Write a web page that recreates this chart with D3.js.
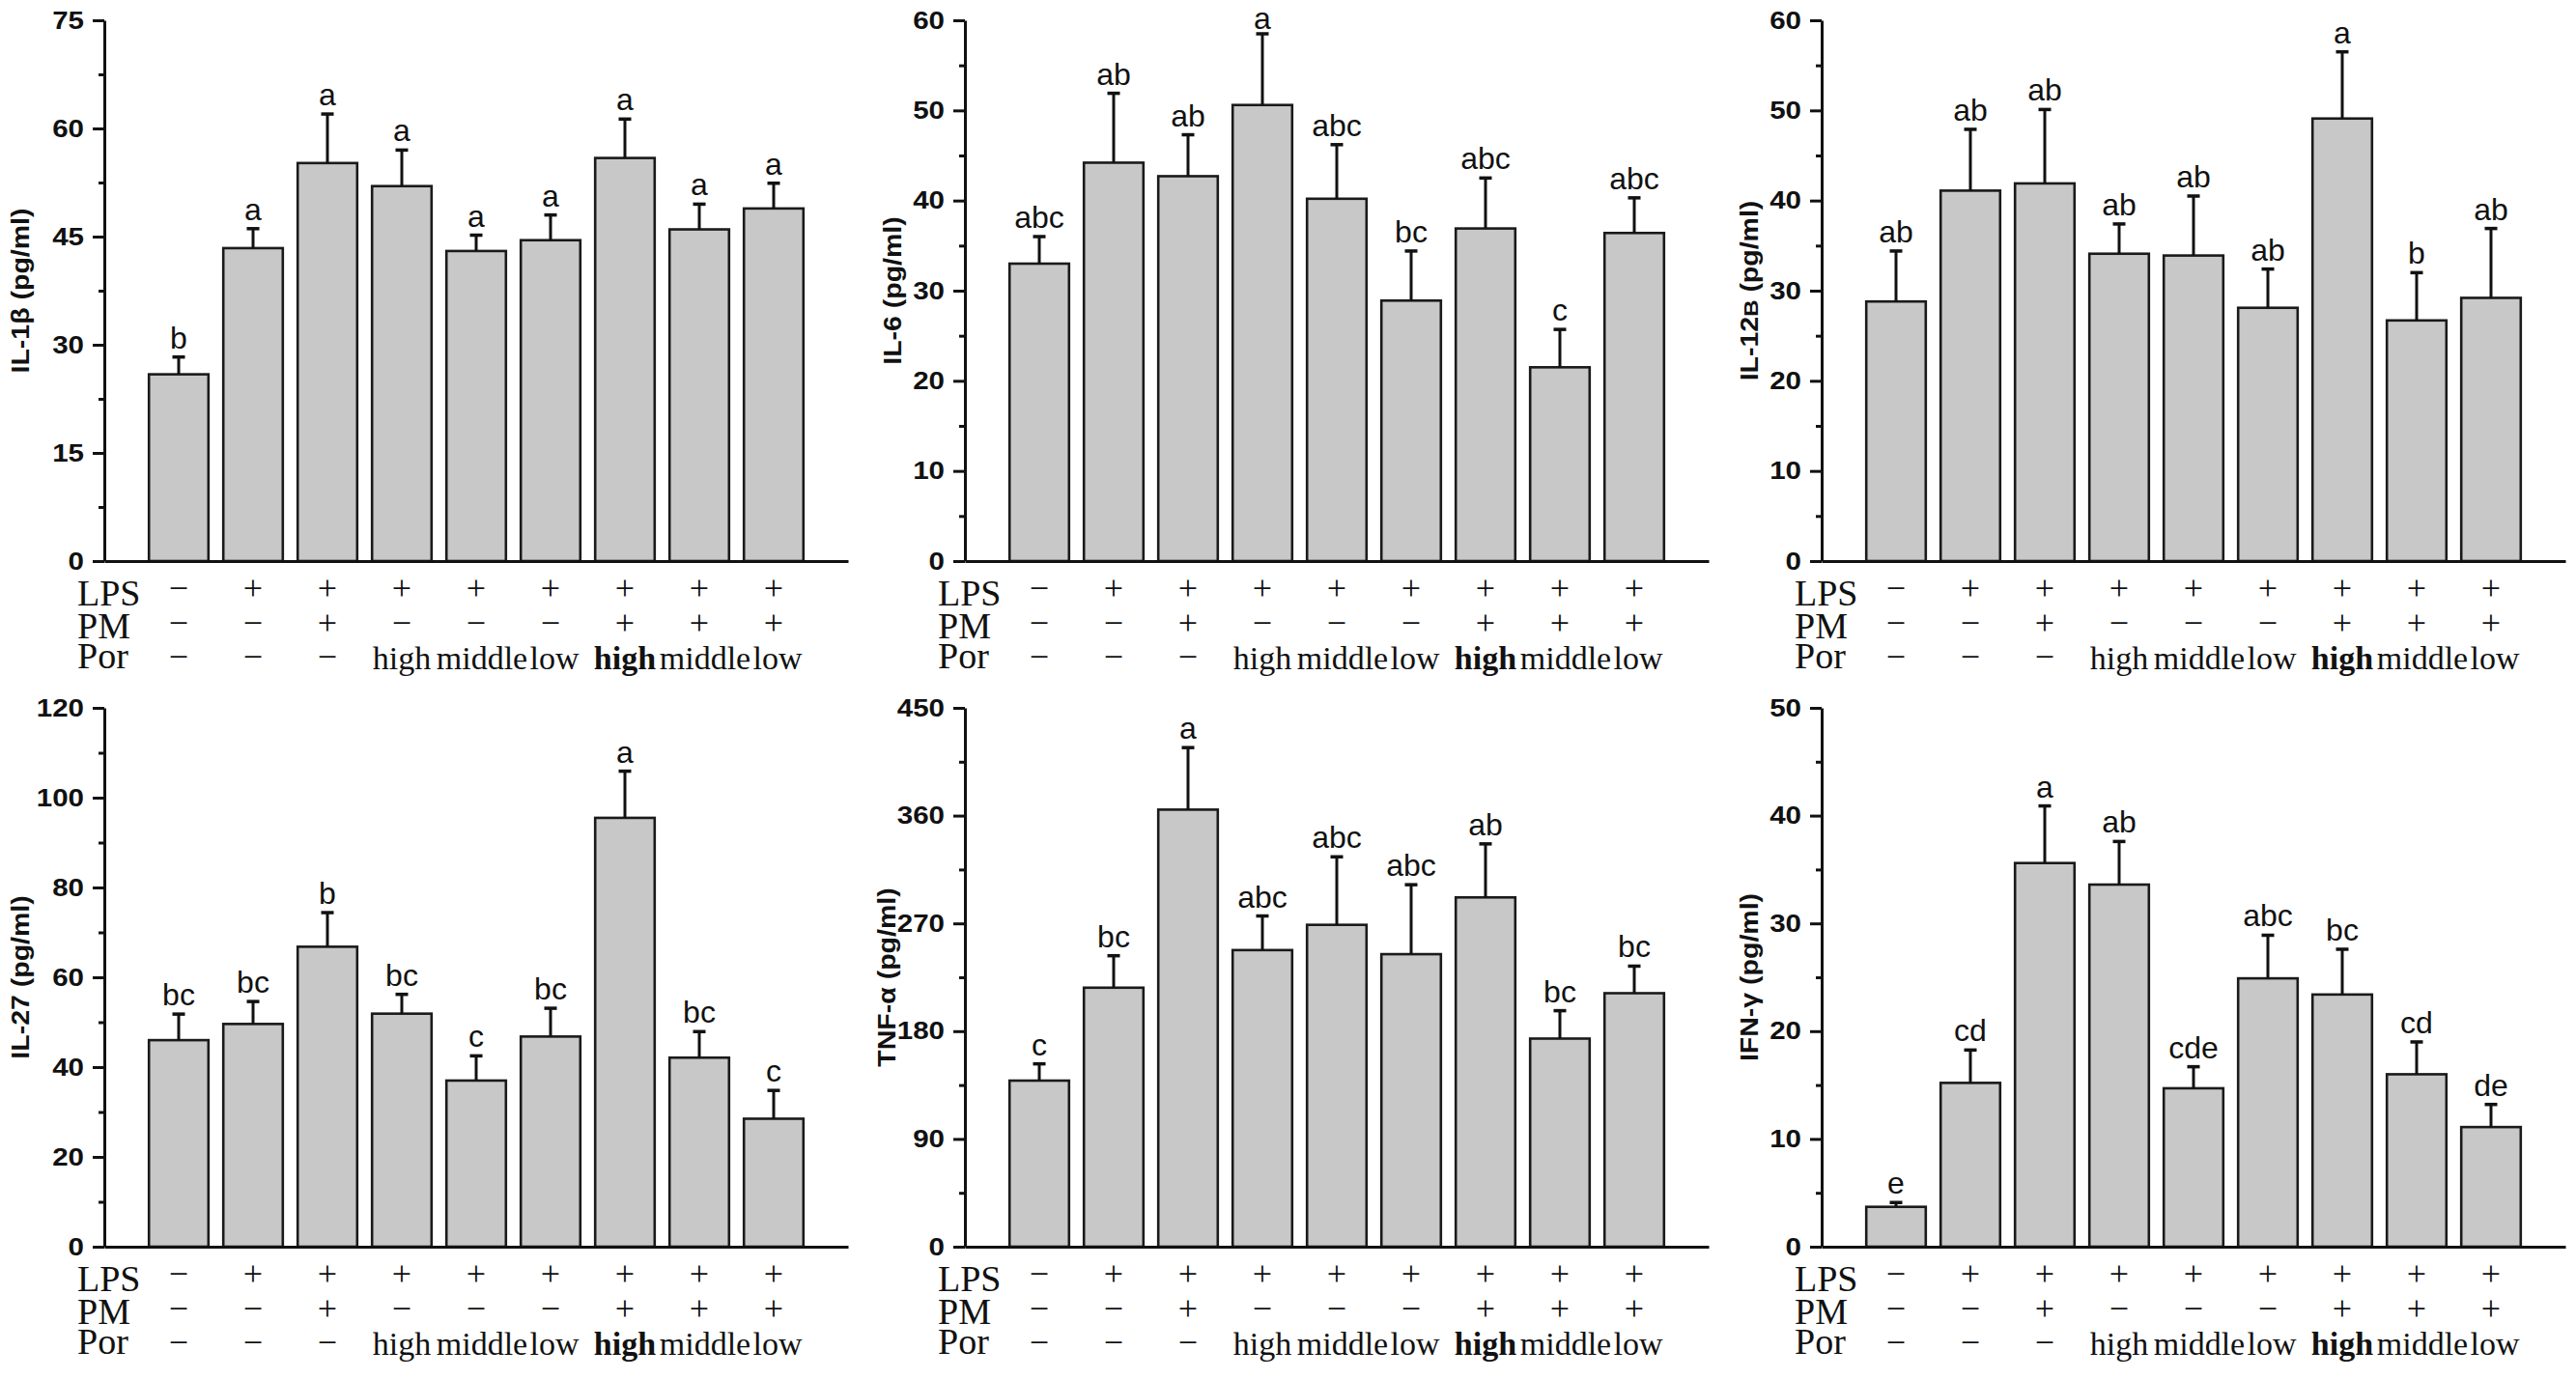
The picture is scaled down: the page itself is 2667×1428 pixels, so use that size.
<!DOCTYPE html>
<html><head><meta charset="utf-8">
<script src="https://cdn.jsdelivr.net/npm/d3@7"></script>
<style>body{margin:0;background:#fff}svg{display:block}</style>
</head><body>
<svg id="chart" width="2667" height="1428"></svg>
<script>
// ---- data ----
const groups = [1, 2, 3, 4, 5, 6, 7, 8, 9];
const lpsRow = ["-", "+", "+", "+", "+", "+", "+", "+", "+"];
const pmRow  = ["-", "-", "+", "-", "-", "-", "+", "+", "+"];
const porRow = ["-", "-", "-", "high", "middle", "low", "high", "middle", "low"];

const il1bMean = [25.9, 43.4, 55.2, 52.0, 43.0, 44.5, 55.9, 46.0, 48.9];
const il1bSd   = [2.4, 2.7, 6.8, 5.0, 2.2, 3.5, 5.4, 3.5, 3.5];
const il1bSig  = ["b", "a", "a", "a", "a", "a", "a", "a", "a"];

const il6Mean = [33.0, 44.2, 42.7, 50.6, 40.2, 28.9, 36.9, 21.5, 36.4];
const il6Sd   = [3.0, 7.7, 4.6, 7.9, 6.0, 5.5, 5.6, 4.2, 3.9];
const il6Sig  = ["abc", "ab", "ab", "a", "abc", "bc", "abc", "c", "abc"];

const il12Mean = [28.8, 41.1, 41.9, 34.1, 33.9, 28.1, 49.1, 26.7, 29.2];
const il12Sd   = [5.6, 6.8, 8.2, 3.3, 6.6, 4.3, 7.4, 5.3, 7.7];
const il12Sig  = ["ab", "ab", "ab", "ab", "ab", "ab", "a", "b", "ab"];

const il27Mean = [46.0, 49.6, 66.8, 51.9, 37.0, 46.8, 95.5, 42.1, 28.5];
const il27Sd   = [5.8, 5.0, 7.6, 4.3, 5.5, 6.3, 10.4, 5.8, 6.3];
const il27Sig  = ["bc", "bc", "b", "bc", "c", "bc", "a", "bc", "c"];

const tnfMean = [138.7, 216.3, 365.0, 247.7, 268.8, 244.3, 291.7, 173.8, 211.7];
const tnfSd   = [14.0, 26.7, 51.8, 28.5, 56.8, 58.0, 44.7, 23.3, 22.6];
const tnfSig  = ["c", "bc", "a", "abc", "abc", "abc", "ab", "bc", "bc"];

const ifnMean = [3.7, 15.2, 35.6, 33.6, 14.7, 24.9, 23.4, 16.0, 11.1];
const ifnSd   = [0.4, 3.05, 5.3, 4.0, 2.0, 4.0, 4.2, 3.0, 2.1];
const ifnSig  = ["e", "cd", "a", "ab", "cde", "abc", "bc", "cd", "de"];

const ticks1 = [0, 15, 30, 45, 60, 75];
const ticks2 = [0, 10, 20, 30, 40, 50, 60];
const ticks3 = [0, 10, 20, 30, 40, 50, 60];
const ticks4 = [0, 20, 40, 60, 80, 100, 120];
const ticks5 = [0, 90, 180, 270, 360, 450];
const ticks6 = [0, 10, 20, 30, 40, 50];

const panels = [
  {name: "IL-1β", mean: il1bMean, sd: il1bSd, sig: il1bSig, ticks: ticks1, col: 0, row: 0, lx: -78},
  {name: "IL-6",  mean: il6Mean,  sd: il6Sd,  sig: il6Sig,  ticks: ticks2, col: 1, row: 0, lx: -66},
  {name: "IL-12", sub: "B", mean: il12Mean, sd: il12Sd, sig: il12Sig, ticks: ticks3, col: 2, row: 0, lx: -66},
  {name: "IL-27", mean: il27Mean, sd: il27Sd, sig: il27Sig, ticks: ticks4, col: 0, row: 1, lx: -78},
  {name: "TNF-α", mean: tnfMean,  sd: tnfSd,  sig: tnfSig,  ticks: ticks5, col: 1, row: 1, lx: -72},
  {name: "IFN-γ", mean: ifnMean,  sd: ifnSd,  sig: ifnSig,  ticks: ticks6, col: 2, row: 1, lx: -66}
];

// ---- layout ----
const colX = [108, 999, 1886];
const axisLen = 770;
const rowTop = [21, 733];
const rowZero = [581, 1291];
const sans = "'Liberation Sans', Arial, sans-serif";
const serif = "'Liberation Serif', 'Times New Roman', serif";
const ink = "#111";

const svg = d3.select("#chart");

panels.forEach(p => {
  const ax = colX[p.col];
  const y0 = rowZero[p.row], yT = rowTop[p.row];
  const maxV = p.ticks[p.ticks.length - 1];
  const x = d3.scaleLinear().domain([0, 10]).range([ax, ax + axisLen]);
  const y = d3.scaleLinear().domain([0, maxV]).range([y0, yT]);
  const g = svg.append("g");
  const bw = x(0.8) - x(0);

  // bars
  g.selectAll("rect.bar").data(groups).join("rect")
    .attr("x", d => x(d) - bw / 2)
    .attr("y", (d, i) => y(p.mean[i]))
    .attr("width", bw)
    .attr("height", (d, i) => y(0) - y(p.mean[i]))
    .attr("fill", "#c8c8c8")
    .attr("stroke", "#1a1a1a")
    .attr("stroke-width", 2.6);

  // error bars (upper only)
  g.selectAll("line.err").data(groups).join("line")
    .attr("x1", d => x(d)).attr("x2", d => x(d))
    .attr("y1", (d, i) => y(p.mean[i]))
    .attr("y2", (d, i) => y(p.mean[i] + p.sd[i]))
    .attr("stroke", ink).attr("stroke-width", 3);
  g.selectAll("line.cap").data(groups).join("line")
    .attr("x1", d => x(d) - 6.5).attr("x2", d => x(d) + 6.5)
    .attr("y1", (d, i) => y(p.mean[i] + p.sd[i]))
    .attr("y2", (d, i) => y(p.mean[i] + p.sd[i]))
    .attr("stroke", ink).attr("stroke-width", 3.5);

  // significance letters
  g.selectAll("text.sig").data(groups).join("text")
    .attr("x", d => x(d))
    .attr("y", (d, i) => Math.max(y(p.mean[i] + p.sd[i]) - 9, 30))
    .attr("text-anchor", "middle")
    .attr("font-family", sans).attr("font-size", 32).attr("fill", ink)
    .text((d, i) => p.sig[i]);

  // y axis (major)
  const kx = 1.18;
  const yAxis = g.append("g").attr("transform", `translate(${ax},0)`)
    .call(d3.axisLeft(y).tickValues(p.ticks).tickSize(12).tickSizeOuter(0).tickPadding(9)
      .tickFormat(d3.format("d")));
  yAxis.selectAll("path, line").attr("stroke", ink).attr("stroke-width", 3);
  yAxis.selectAll("text")
    .attr("font-family", sans).attr("font-weight", "bold").attr("font-size", 25).attr("fill", ink)
    .attr("x", -21 / kx).attr("transform", `scale(${kx},1)`);
  // minor ticks
  const minors = d3.pairs(p.ticks).map(([a, b]) => (a + b) / 2);
  const mAxis = g.append("g").attr("transform", `translate(${ax},0)`)
    .call(d3.axisLeft(y).tickValues(minors).tickSize(6).tickFormat(""));
  mAxis.select("path").remove();
  mAxis.selectAll("line").attr("stroke", ink).attr("stroke-width", 3);

  // x axis baseline
  const xAxis = g.append("g").attr("transform", `translate(0,${y0})`)
    .call(d3.axisBottom(x).tickValues([]).tickSizeOuter(0));
  xAxis.select("path").attr("stroke", ink).attr("stroke-width", 3);

  // y label
  const lab = g.append("text")
    .attr("transform", `translate(${ax + p.lx},${(y0 + yT) / 2}) rotate(-90) scale(1.14,1)`)
    .attr("text-anchor", "middle")
    .attr("font-family", sans).attr("font-weight", "bold").attr("font-size", 25).attr("fill", ink);
  lab.append("tspan").text(p.name);
  if (p.sub) lab.append("tspan").attr("font-size", 21).text(p.sub);
  lab.append("tspan").text(" (pg/ml)");

  // treatment table
  const rowNames = ["LPS", "PM", "Por"];
  const labBase = [46, 80, 111];
  const symMid = [31, 67, 102];
  rowNames.forEach((rn, r) => {
    g.append("text").attr("x", ax - 28).attr("y", y0 + labBase[r])
      .attr("font-family", serif).attr("font-size", 38).attr("fill", ink).text(rn);
  });
  [lpsRow, pmRow, porRow].forEach((vals, r) => {
    g.selectAll(null).data(groups).join("text")
      .attr("x", (d, i) => {
        const v = vals[i];
        return x(d) + (v === "middle" ? 6 : v === "low" ? 4 : 0);
      })
      .attr("y", (d, i) => {
        const v = vals[i];
        return (v === "+" || v === "-") ? y0 + symMid[r] + 9 : y0 + 112;
      })
      .attr("text-anchor", "middle")
      .attr("font-family", serif)
      .attr("font-size", (d, i) => (vals[i] === "+" || vals[i] === "-") ? 36 : 34)
      .attr("font-weight", (d, i) => (r === 2 && i === 6) ? "bold" : "normal")
      .attr("fill", ink)
      .text((d, i) => vals[i] === "-" ? "\u2212" : vals[i]);
  });
});
</script>
</body></html>
